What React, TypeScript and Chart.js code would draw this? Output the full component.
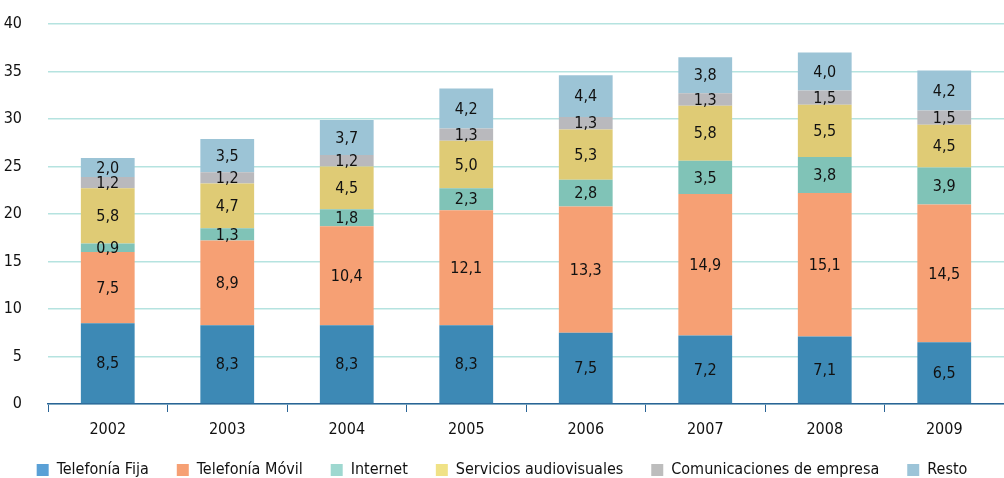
import React, { useEffect, useRef } from "react";
import { Chart, registerables } from "chart.js";

Chart.register(...registerables);

const years = ["2002", "2003", "2004", "2005", "2006", "2007", "2008", "2009"];
const telefoniaFija = [8.5, 8.3, 8.3, 8.3, 7.5, 7.2, 7.1, 6.5];
const telefoniaMovil = [7.5, 8.9, 10.4, 12.1, 13.3, 14.9, 15.1, 14.5];
const internet = [0.9, 1.3, 1.8, 2.3, 2.8, 3.5, 3.8, 3.9];
const audiovisuales = [5.8, 4.7, 4.5, 5.0, 5.3, 5.8, 5.5, 4.5];
const comunicacionesEmpresa = [1.2, 1.2, 1.2, 1.3, 1.3, 1.3, 1.5, 1.5];
const resto = [2.0, 3.5, 3.7, 4.2, 4.4, 3.8, 4.0, 4.2];

const seriesNames = [
  "Telefonía Fija",
  "Telefonía Móvil",
  "Internet",
  "Servicios audiovisuales",
  "Comunicaciones de empresa",
  "Resto",
];
const seriesData = [telefoniaFija, telefoniaMovil, internet, audiovisuales, comunicacionesEmpresa, resto];
const barColors = ["#3d89b5", "#f6a074", "#80c3b7", "#dfcb75", "#b9b9bd", "#9cc4d6"];
const legendColors = ["#5aa0d6", "#f6a074", "#9ed8d0", "#f0e286", "#bdbdbd", "#9cc4d8"];
const yTicks = [0, 5, 10, 15, 20, 25, 30, 35, 40];

const FONT = "'Liberation Sans Narrow', 'DejaVu Sans Condensed', 'Arial Narrow', sans-serif";

const valueLabels = {
  id: "valueLabels",
  afterDatasetsDraw(chart: any) {
    const ctx = chart.ctx;
    ctx.save();
    ctx.font = `16px ${FONT}`;
    ctx.fillStyle = "#111";
    ctx.textAlign = "center";
    ctx.textBaseline = "middle";
    chart.data.datasets.forEach((ds: any, i: number) => {
      const meta = chart.getDatasetMeta(i);
      meta.data.forEach((bar: any, j: number) => {
        const v = ds.data[j] as number;
        const p = bar.getProps(["x", "y", "base"], true);
        ctx.fillText(v.toFixed(1).replace(".", ","), p.x, (p.y + p.base) / 2 + 1);
      });
    });
    ctx.restore();
  },
};

export default function App() {
  const ref = useRef<HTMLCanvasElement | null>(null);
  useEffect(() => {
    if (!ref.current) return;
    const chart = new Chart(ref.current, {
      type: "bar",
      data: {
        labels: years,
        datasets: seriesNames.map((name, i) => ({
          label: name,
          data: seriesData[i],
          backgroundColor: barColors[i],
          borderWidth: 0,
          barPercentage: 0.9,
          categoryPercentage: 0.5,
        })),
      },
      options: {
        animation: false,
        responsive: false,
        maintainAspectRatio: false,
        layout: { padding: { top: 24, right: 0, left: 0, bottom: 0 } },
        plugins: {
          tooltip: { enabled: false },
          legend: {
            position: "bottom",
            labels: {
              boxWidth: 12,
              boxHeight: 12,
              padding: 28,
              color: "#111",
              font: { family: FONT, size: 16 },
              generateLabels: (chart: any) =>
                chart.data.datasets.map((ds: any, i: number) => ({
                  text: ds.label,
                  fillStyle: legendColors[i],
                  strokeStyle: legendColors[i],
                  lineWidth: 0,
                  hidden: false,
                  datasetIndex: i,
                  fontColor: "#111",
                })),
            },
          },
        },
        scales: {
          x: {
            stacked: true,
            afterFit: (scale: any) => {
              scale.height = 30;
            },
            grid: {
              offset: true,
              drawOnChartArea: false,
              drawTicks: true,
              tickLength: 8,
              color: "#2a6496",
            },
            border: { color: "#2a6496", width: 1.5 },
            ticks: { color: "#111", font: { family: FONT, size: 16, lineHeight: 1.0 }, padding: 10 },
          },
          y: {
            stacked: true,
            min: 0,
            max: 40,
            afterFit: (scale: any) => {
              scale.width = 48;
              scale.paddingTop = 10;
              scale.paddingBottom = 10;
            },
            afterBuildTicks: (scale: any) => {
              scale.ticks = yTicks.map((v) => ({ value: v }));
            },
            grid: { color: "#b5e3e0", lineWidth: 1.5, drawTicks: false },
            border: { display: false },
            ticks: { color: "#111", font: { family: FONT, size: 16 }, padding: 26 },
          },
        },
      },
      plugins: [valueLabels],
    });
    return () => chart.destroy();
  }, []);
  return (
    <div style={{ position: "fixed", left: 0, top: 0, width: 1004, height: 478, overflow: "hidden", background: "#fff" }}>
      <canvas ref={ref} width={1004} height={488} style={{ display: "block" }} />
    </div>
  );
}
